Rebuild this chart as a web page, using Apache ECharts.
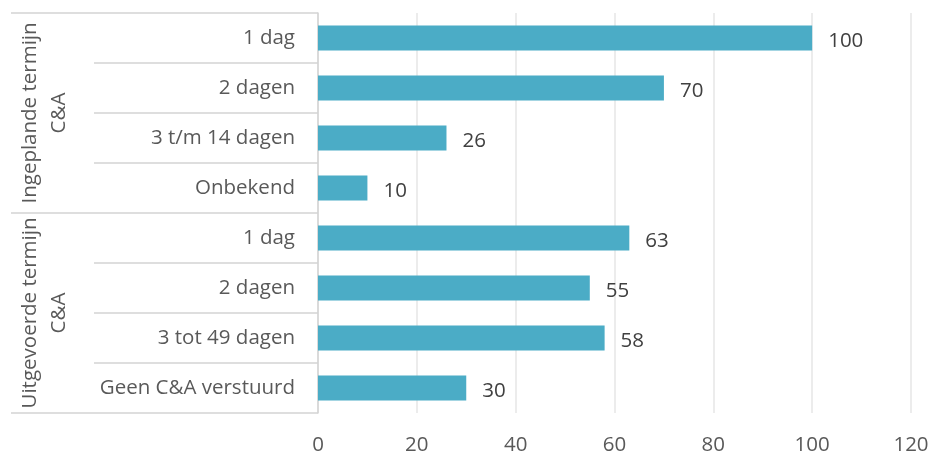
<!DOCTYPE html>
<html>
<head>
<meta charset="utf-8">
<script src="https://cdn.jsdelivr.net/npm/echarts@6/dist/echarts.min.js"></script>
<style>
html,body{margin:0;padding:0;background:#fff;}
#chart{width:934px;height:457px;}
</style>
</head>
<body>
<div id="chart"></div>
<script>
const groups = ['Ingeplande termijn\nC&A', 'Uitgevoerde termijn\nC&A'];
const categories = ['1 dag', '2 dagen', '3 t/m 14 dagen', 'Onbekend', '1 dag', '2 dagen', '3 tot 49 dagen', 'Geen C&A verstuurd'];
const values = [100, 70, 26, 10, 63, 55, 58, 30];
const xTicks = { min: 0, max: 120, interval: 20 };

const FONT = 'Open Sans';
const FS = 20.5;
const chart = echarts.init(document.getElementById('chart'), null, { renderer: 'canvas' });
chart.setOption({
  backgroundColor: '#ffffff',
  animation: false,
  grid: { left: 318, right: 23, top: 13, bottom: 44, containLabel: false },
  xAxis: {
    type: 'value',
    min: xTicks.min, max: xTicks.max, interval: xTicks.interval,
    axisLine: { show: false },
    axisTick: { show: false },
    axisLabel: { color: '#595959', fontSize: FS, fontFamily: FONT, margin: 22 },
    splitLine: { show: true, lineStyle: { color: '#e6e6e6', width: 1.5 } }
  },
  yAxis: [
    {
      type: 'category',
      inverse: true,
      data: categories,
      position: 'left',
      axisLine: { show: true, lineStyle: { color: '#d4d4d4', width: 1.5 } },
      axisTick: { show: true, length: 224, interval: 0, lineStyle: { color: '#d4d4d4', width: 1.5 } },
      axisLabel: { color: '#595959', fontSize: FS, fontFamily: FONT, margin: 23, interval: 0 }
    },
    {
      type: 'category',
      inverse: true,
      data: groups,
      position: 'left',
      axisLine: { show: false },
      axisTick: { show: true, length: 307, interval: 0, lineStyle: { color: '#d4d4d4', width: 1.5 } },
      axisLabel: { color: '#595959', fontSize: FS, fontFamily: FONT, rotate: 90, margin: 244, lineHeight: 29, align: 'center', interval: 0 }
    }
  ],
  series: [{
    type: 'bar',
    yAxisIndex: 0,
    data: values,
    barWidth: '50%',
    itemStyle: { color: '#4BACC6' },
    label: { show: true, position: 'right', distance: 16, offset: [0, 3], color: '#404040', fontSize: FS, fontFamily: FONT }
  }]
});
</script>
</body>
</html>
